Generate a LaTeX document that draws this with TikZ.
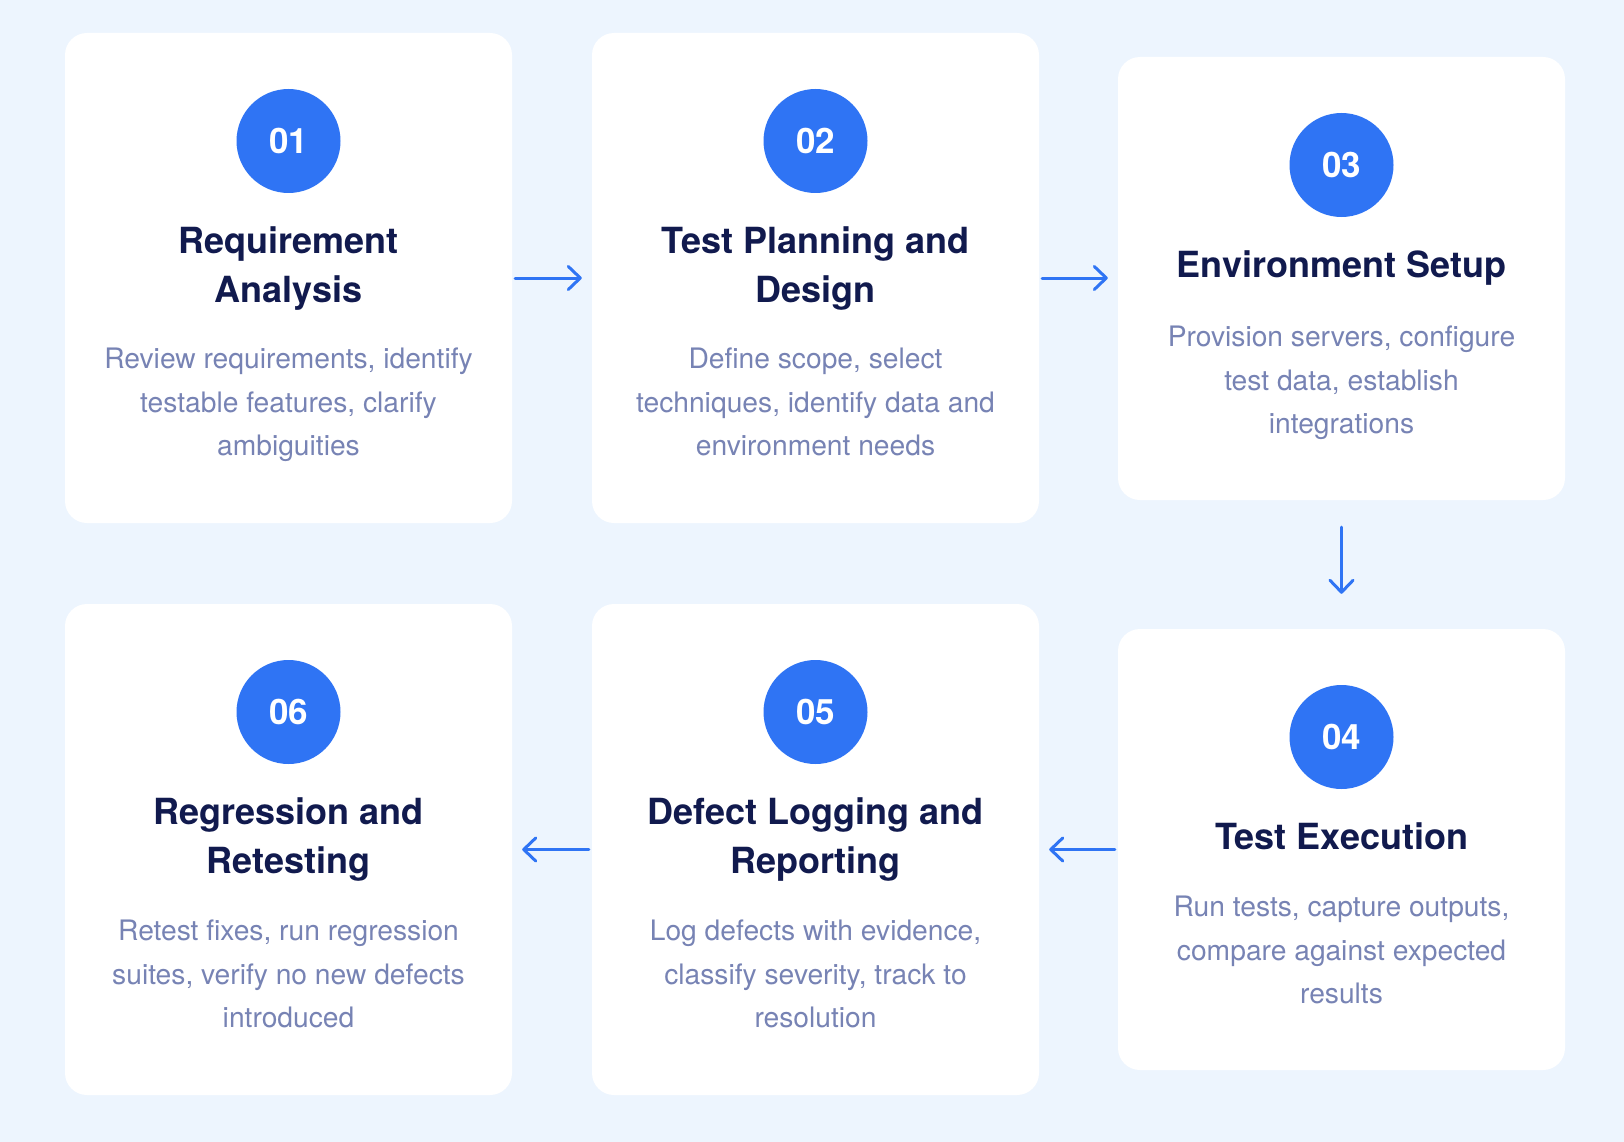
\documentclass[tikz,border=0pt]{standalone}
\usepackage{fontspec}
\setmainfont{TeX Gyre Heros}
\usetikzlibrary{arrows.meta}
\definecolor{bgc}{HTML}{EDF5FE}
\definecolor{bluec}{HTML}{2F74F4}
\definecolor{titlec}{HTML}{111A4E}
\definecolor{descc}{HTML}{7783B4}
\tikzset{
  card/.style={fill=white, rounded corners=22, minimum width=447, inner sep=0},
  num/.style={circle, fill=bluec, minimum size=104, inner sep=0, text=white,
    font=\fontsize{35}{38}\selectfont\bfseries},
  ttl/.style={anchor=base, inner sep=0, text=titlec,
    font=\fontsize{36}{40}\selectfont\bfseries},
  dsc/.style={anchor=base, inner sep=0, text=descc,
    font=\fontsize{28.2}{30}\selectfont},
  arr/.style={draw=bluec, line width=3, line cap=round, line join=round,
    -{Straight Barb[length=12, width=23, line cap=round, line join=round]}}
}
\begin{document}
\begin{tikzpicture}[x=1pt, y=-1pt]
\useasboundingbox (0,0) rectangle (1624,1142);
\fill[bgc] (0,0) rectangle (1624,1142);
% cards
\node[card, minimum height=490] (c1) at (288.5,278) {};
\node[card, minimum height=490] (c2) at (815.5,278) {};
\node[card, minimum height=443] (c3) at (1341.5,278.5) {};
\node[card, minimum height=441] (c4) at (1341.5,849.5) {};
\node[card, minimum height=491] (c5) at (815.5,849.5) {};
\node[card, minimum height=491] (c6) at (288.5,849.5) {};
% numbers
\node[num] (n1) at (288.5,141) {01};
\node[num] (n2) at (815.5,141) {02};
\node[num] (n3) at (1341.5,165) {03};
\node[num] (n4) at (1341.5,737) {04};
\node[num] (n5) at (815.5,712) {05};
\node[num] (n6) at (288.5,712) {06};
% card 1
\node[ttl] (t1a) at (288.5,253) {Requirement};
\node[ttl] (t1b) at (288.5,302) {Analysis};
\node[dsc] (d1a) at (288.5,368) {Review requirements, identify};
\node[dsc] (d1b) at (288.5,412) {testable features, clarify};
\node[dsc] (d1c) at (288.5,455) {ambiguities};
% card 2
\node[ttl] (t2a) at (815.5,253) {Test Planning and};
\node[ttl] (t2b) at (815.5,302) {Design};
\node[dsc] (d2a) at (815.5,368) {Define scope, select};
\node[dsc] (d2b) at (815.5,412) {techniques, identify data and};
\node[dsc] (d2c) at (815.5,455) {environment needs};
% card 3
\node[ttl] (t3a) at (1341.5,277) {Environment Setup};
\node[dsc] (d3a) at (1341.5,346) {Provision servers, configure};
\node[dsc] (d3b) at (1341.5,390) {test data, establish};
\node[dsc] (d3c) at (1341.5,433) {integrations};
% card 4
\node[ttl] (t4a) at (1341.5,849) {Test Execution};
\node[dsc] (d4a) at (1341.5,916) {Run tests, capture outputs,};
\node[dsc] (d4b) at (1341.5,960) {compare against expected};
\node[dsc] (d4c) at (1341.5,1003) {results};
% card 5
\node[ttl] (t5a) at (815.5,824) {Defect Logging and};
\node[ttl] (t5b) at (815.5,873) {Reporting};
\node[dsc] (d5a) at (815.5,940) {Log defects with evidence,};
\node[dsc] (d5b) at (815.5,984) {classify severity, track to};
\node[dsc] (d5c) at (815.5,1027) {resolution};
% card 6
\node[ttl] (t6a) at (288.5,824) {Regression and};
\node[ttl] (t6b) at (288.5,873) {Retesting};
\node[dsc] (d6a) at (288.5,940) {Retest fixes, run regression};
\node[dsc] (d6b) at (288.5,984) {suites, verify no new defects};
\node[dsc] (d6c) at (288.5,1027) {introduced};
% arrows
\draw[arr] ([xshift=3]c1.east) -- ([xshift=-10]c2.west);
\draw[arr] ([xshift=3]c2.east) -- ([xshift=-10]c2.east -| c3.west);
\draw[arr] ([yshift=-27]c3.south) -- ([yshift=35]c4.north);
\draw[arr] ([xshift=-3]c4.west) -- ([xshift=10]c4.west -| c5.east);
\draw[arr] ([xshift=-3]c5.west) -- ([xshift=10]c6.east);
\end{tikzpicture}
\end{document}
